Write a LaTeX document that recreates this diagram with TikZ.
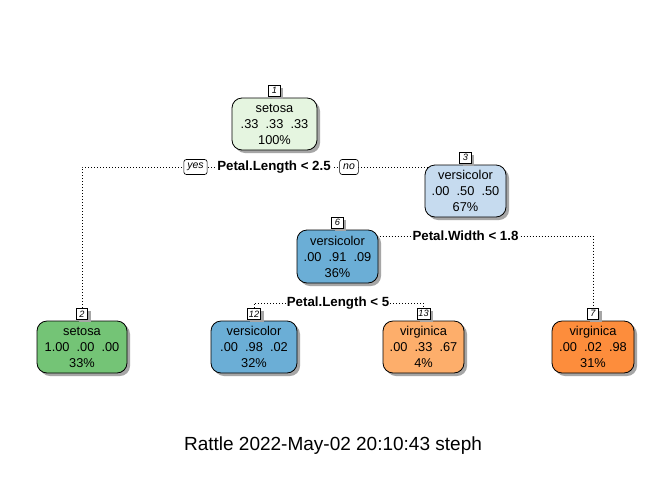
\documentclass[tikz,border=0pt]{standalone}
\usepackage{fontspec}
\setmainfont{Liberation Sans}
\usetikzlibrary{shadows,backgrounds}
\definecolor{cA}{RGB}{229,245,224}
\definecolor{cB}{RGB}{116,196,118}
\definecolor{cC}{RGB}{198,219,239}
\definecolor{cD}{RGB}{107,174,214}
\definecolor{cE}{RGB}{253,174,107}
\definecolor{cF}{RGB}{253,141,60}
\begin{document}
\begin{tikzpicture}[x=1pt,y=-1pt,
  treenode/.style={draw=black, line width=0.8pt, rounded corners=10pt,
    minimum height=52pt, align=center, inner sep=0pt,
    font=\fontsize{12.8}{16}\selectfont,
    drop shadow={shadow xshift=3pt, shadow yshift=-3pt, fill=black!35, opacity=1}},
  numbox/.style={draw=black, line width=0.6pt, fill=white, inner xsep=1.5pt, inner ysep=0pt,
    minimum width=11.5pt, minimum height=11pt, anchor=south,
    font=\fontsize{9.2}{10}\selectfont\itshape,
    drop shadow={shadow xshift=3pt, shadow yshift=-3pt, fill=black!35, opacity=1}},
  splitlab/.style={fill=white, inner xsep=1pt, inner ysep=1pt,
    font=\fontsize{13.3}{15}\selectfont\bfseries},
  yesno/.style={draw=black, line width=0.6pt, fill=white, rounded corners=2.5pt,
    minimum height=15pt, inner xsep=3.5pt, inner ysep=0pt,
    font=\fontsize{10.5}{11}\selectfont\itshape},
  conn/.style={line width=0.8pt, dash pattern=on 0.8pt off 2.2pt}
]
\useasboundingbox (0,0) rectangle (672,480);

% nodes
\node[treenode, fill=cA, minimum width=85pt] (n1) at (274.5,124) {setosa\\.33~~.33~~.33\\100\%};
\node[treenode, fill=cC, minimum width=81pt] (n3) at (465.5,191) {versicolor\\.00~~.50~~.50\\67\%};
\node[treenode, fill=cD, minimum width=81pt, minimum height=53pt] (n6) at (337.5,256.5) {versicolor\\.00~~.91~~.09\\36\%};
\node[treenode, fill=cB, minimum width=90pt] (n2) at (82,347) {setosa\\1.00~~.00~~.00\\33\%};
\node[treenode, fill=cD, minimum width=86pt] (n12) at (254,347) {versicolor\\.00~~.98~~.02\\32\%};
\node[treenode, fill=cE, minimum width=81pt] (n13) at (423.5,347) {virginica\\.00~~.33~~.67\\4\%};
\node[treenode, fill=cF, minimum width=82pt] (n7) at (593,347) {virginica\\.00~~.02~~.98\\31\%};

% number boxes
\node[numbox] (l1) at ([yshift=1pt]n1.north) {1};
\node[numbox] (l3) at ([yshift=1pt]n3.north) {3};
\node[numbox] (l6) at ([yshift=1pt]n6.north) {6};
\node[numbox] (l2) at ([yshift=1pt]n2.north) {2};
\node[numbox] (l12) at ([yshift=1pt]n12.north) {12};
\node[numbox] (l13) at ([yshift=1pt]n13.north) {13};
\node[numbox] (l7) at ([yshift=1pt]n7.north) {7};

% split labels
\node[splitlab] (s1) at (274,167) {Petal.Length < 2.5};
\node[yesno] (yes) at (195.5,167) {yes};
\node[yesno] (no) at (349,167) {no};
\node[splitlab] (s2) at (465.5,236) {Petal.Width < 1.8};
\node[splitlab] (s3) at (338,303) {Petal.Length < 5};

% title
\node[font=\fontsize{19}{21}\selectfont] (title) at (333,446) {Rattle 2022-May-02 20:10:43 steph};

% connectors
\begin{pgfonlayer}{background}
\fill[white] (0,0) rectangle (672,480);
\draw[conn] (l2.north) -- (l2.north |- s1) -- (n3.center |- s1);
\draw[conn] (n6.center |- s2) -- (l7.north |- s2) -- (l7.north);
\draw[conn] (l12.north) -- (l12.north |- s3) -- (l13.north |- s3) -- (l13.north);
\end{pgfonlayer}
\end{tikzpicture}
\end{document}
